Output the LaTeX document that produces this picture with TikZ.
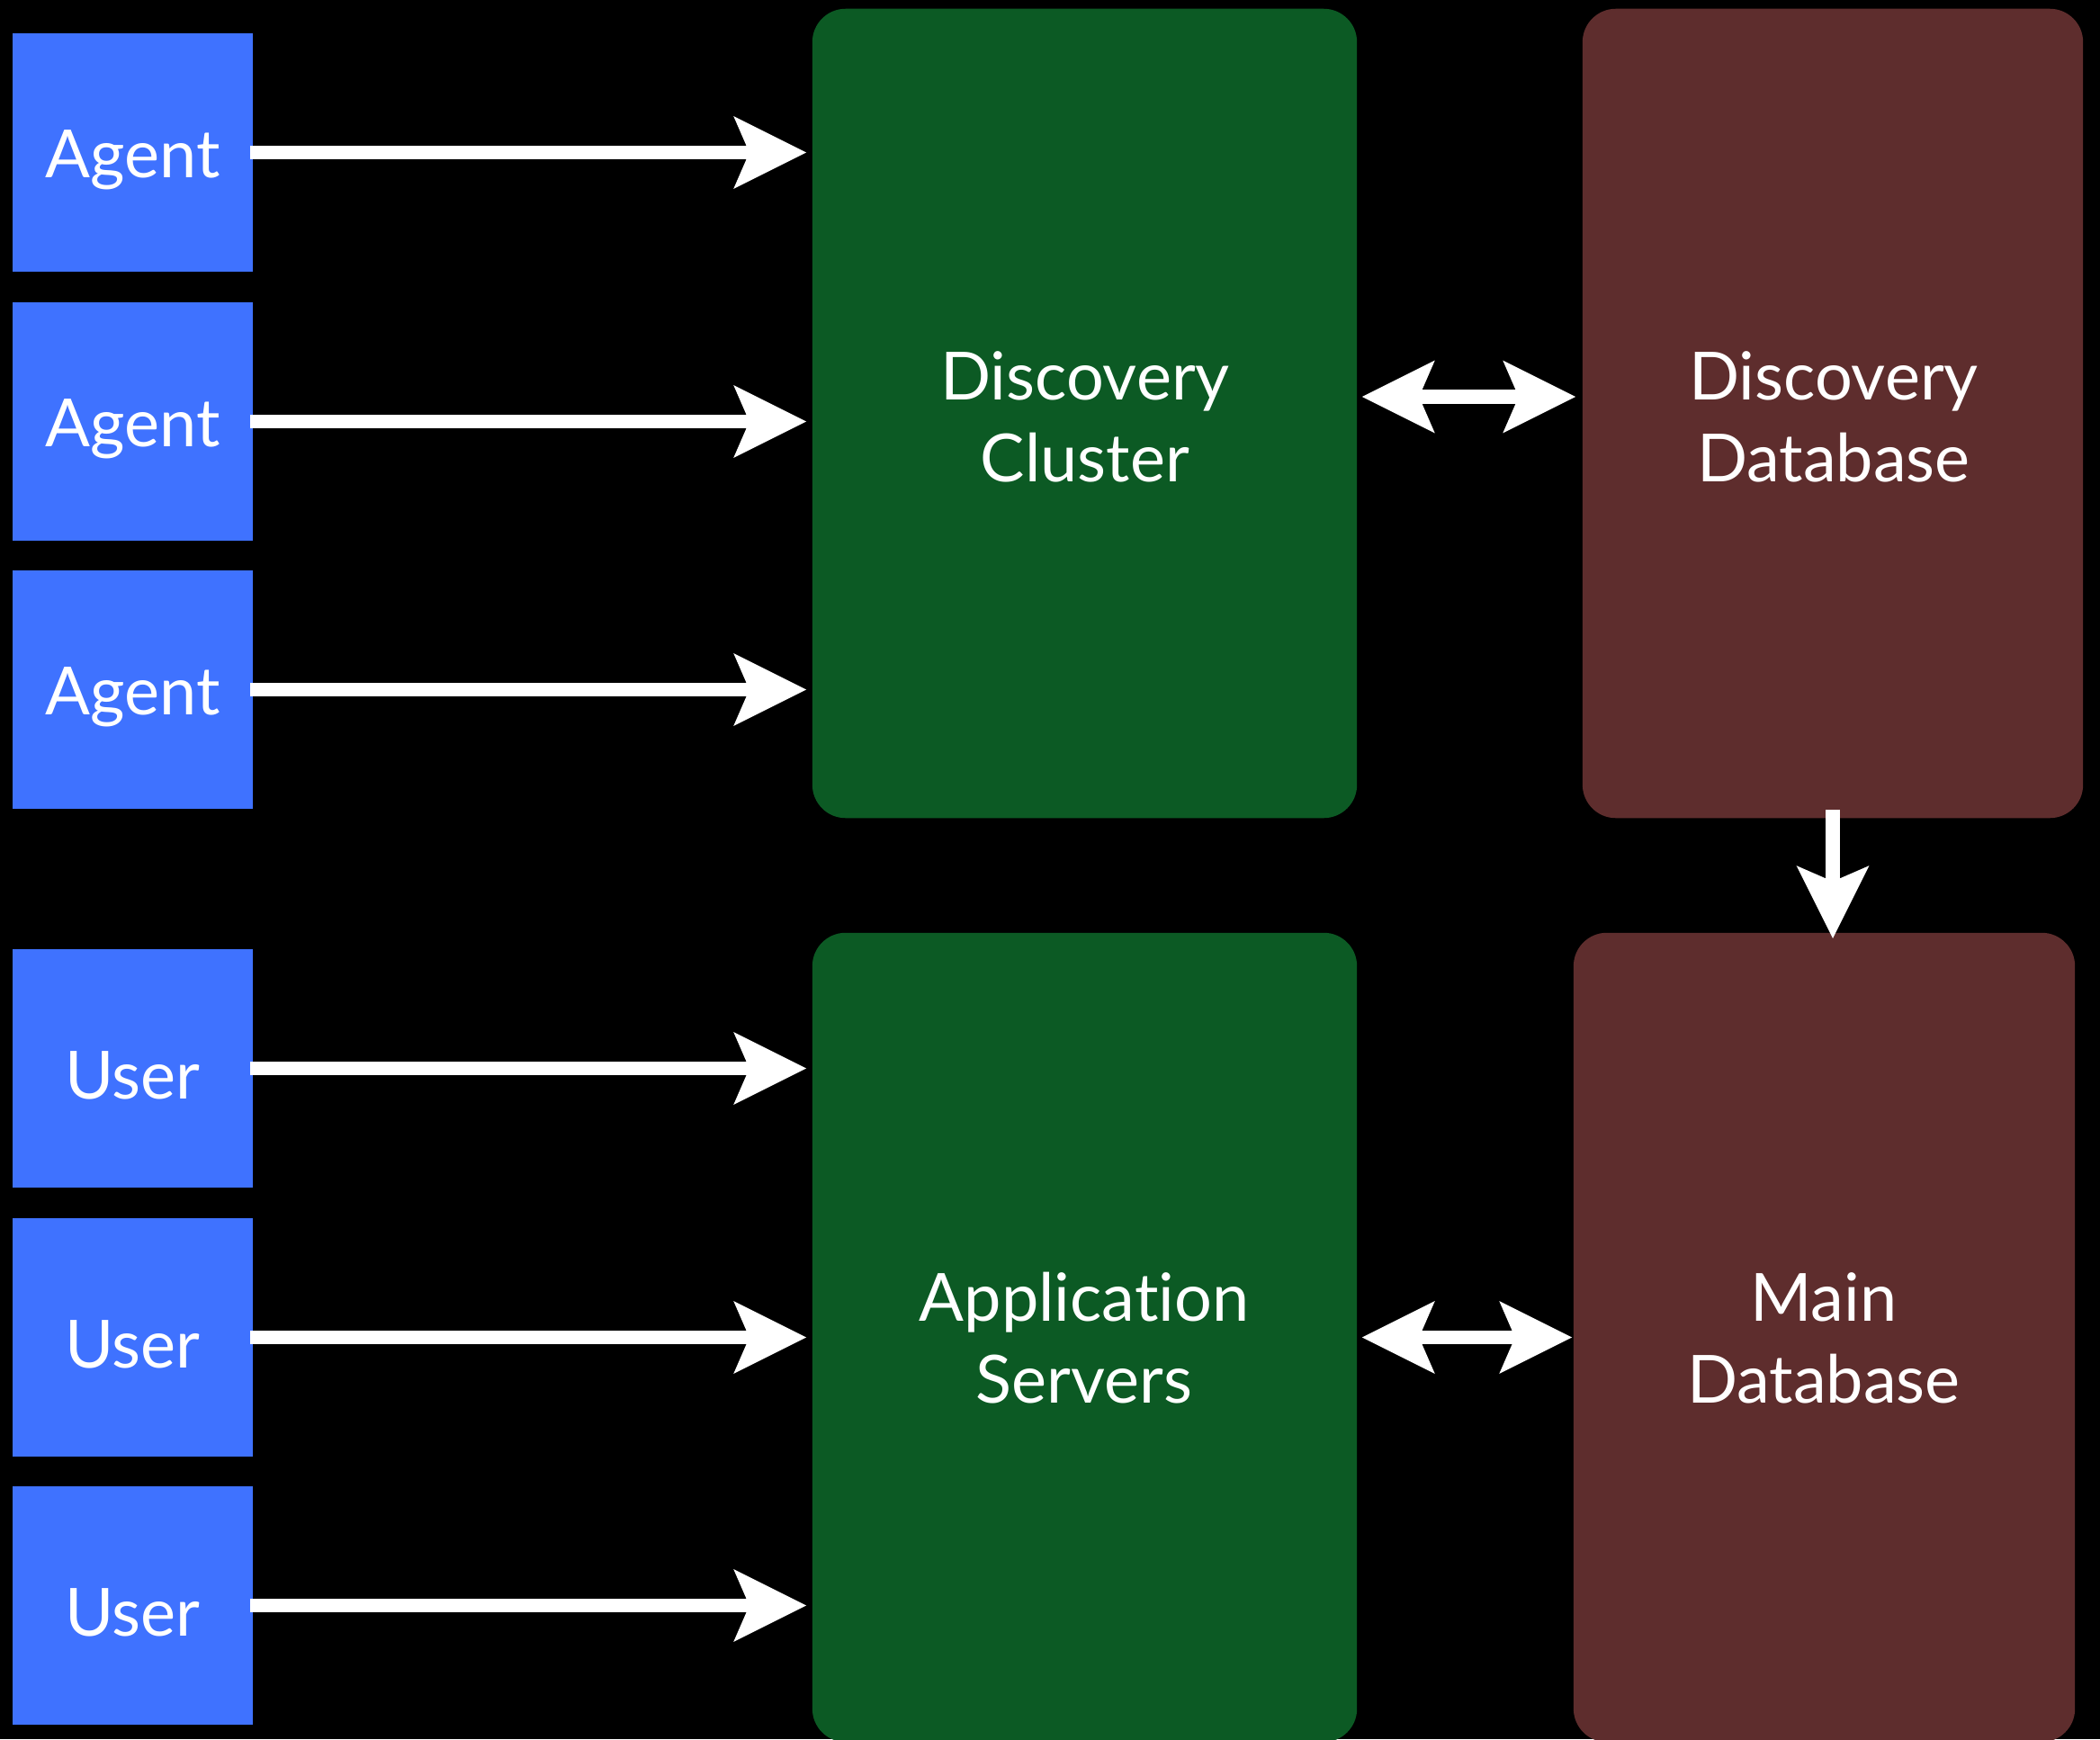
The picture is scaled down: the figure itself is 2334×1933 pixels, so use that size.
\documentclass[tikz,border=0pt]{standalone}
\usepackage{fontspec}
\setmainfont{Lato}[Ligatures=NoCommon]
\usetikzlibrary{arrows.meta}
\definecolor{agentblue}{RGB}{63,114,255}
\definecolor{clustergreen}{RGB}{12,90,36}
\definecolor{dbbrown}{RGB}{94,45,45}
\begin{document}
\begin{tikzpicture}[x=0.01cm,y=-0.01cm,
  client/.style={fill=agentblue, minimum width=2.67cm, minimum height=2.65cm,
    inner sep=0pt},
  clienttext/.style={text=white, font=\fontsize{21}{25}\selectfont, inner sep=0pt},
  bigbox/.style={rounded corners=0.37cm, inner sep=0pt},
  bigtext/.style={text=white, align=center, font=\fontsize{21}{25.8}\selectfont},
  headtip/.tip={Stealth[length=23pt,width=23pt,inset=5pt,line width=0pt]},
  flow/.style={draw=white, line width=4.3pt, -headtip},
  bothflow/.style={draw=white, line width=4.3pt, headtip-headtip}]
\useasboundingbox (0,0) rectangle (2334,1933);
\fill[black] (0,0) rectangle (2334,1933);
% clients
\node[client] (a1) at (147.5,169.5) {};
\node[client] (a2) at (147.5,468.5) {};
\node[client] (a3) at (147.5,766.5) {};
\node[client] (u1) at (147.5,1187.5) {};
\node[client] (u2) at (147.5,1486.5) {};
\node[client] (u3) at (147.5,1784.5) {};
\foreach \c/\t in {a1/Agent,a2/Agent,a3/Agent,u1/User,u2/User,u3/User}
  \node[clienttext] at ([yshift=-0.08cm]\c.center) {\t};
% big boxes
\node[bigbox, fill=clustergreen, minimum width=6.05cm, minimum height=8.99cm]
  (dc) at (1205.5,459.5) {};
\node[bigtext] at (1206,463) {Discovery\\Cluster};
\node[bigbox, fill=clustergreen, minimum width=6.05cm, minimum height=8.99cm]
  (app) at (1205.5,1486.5) {};
\node[bigtext] at (1205,1487) {Application\\Servers};
\node[bigbox, fill=dbbrown, minimum width=5.56cm, minimum height=8.99cm]
  (ddb) at (2037,459.5) {};
\node[bigtext] at (2038,463) {Discovery\\Database};
\node[bigbox, fill=dbbrown, minimum width=5.57cm, minimum height=8.99cm]
  (mdb) at (2027.5,1486.5) {};
\node[bigtext] at (2027,1487) {Main\\Database};
% connectors
\foreach \c in {a1,a2,a3}
  \draw[flow, shorten <=-0.04cm, shorten >=0.06cm] (\c.east) -- (\c.east -| dc.west);
\foreach \c in {u1,u2,u3}
  \draw[flow, shorten <=-0.04cm, shorten >=0.06cm] (\c.east) -- (\c.east -| app.west);
\coordinate (m1) at (0,441);
\draw[bothflow, shorten <=0.05cm, shorten >=0.07cm] (dc.east |- m1) -- (ddb.west |- m1);
\draw[bothflow, shorten <=0.05cm, shorten >=0.01cm] (app.east) -- (mdb.west);
\draw[flow, shorten <=-0.1cm, shorten >=-0.07cm] (ddb.south) -- (ddb.south |- mdb.north);
\end{tikzpicture}
\end{document}
